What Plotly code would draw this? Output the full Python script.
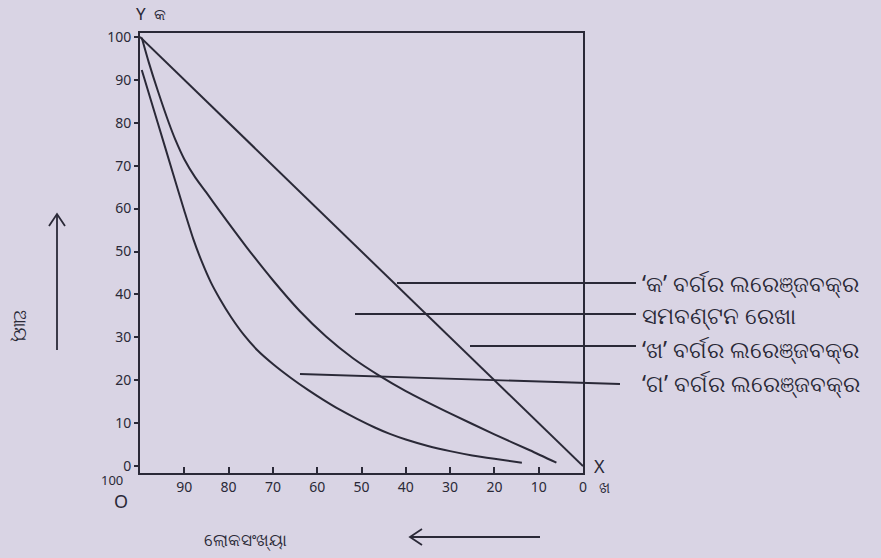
import plotly.graph_objects as go

# ---- data (population % on x, income % on y) ----
equal_pop = [100, 0]
equal_inc = [100, 0]

kha_pop = [99.6, 98.0, 96.0, 93.5, 92.0, 90.0, 87.5, 85.0, 82.0, 76.0, 70.0, 64.0, 58.0, 52.0, 46.0, 40.0, 30.0, 20.0, 12.0, 6.0]
kha_inc = [99.8, 94.0, 87.5, 80.0, 76.0, 71.5, 67.2, 63.7, 59.4, 51.1, 43.3, 36.2, 30.2, 25.2, 21.1, 17.5, 12.3, 7.4, 3.7, 0.8]

ga_pop = [99.6, 96.0, 92.5, 90.0, 88.0, 86.0, 84.0, 82.0, 79.5, 76.5, 73.5, 70.0, 66.0, 62.0, 58.7, 55.0, 51.0, 47.0, 43.6, 40.0, 35.0, 30.0, 25.0, 20.0, 13.8]
ga_inc = [92.3, 80.0, 68.0, 59.5, 53.0, 47.5, 42.8, 39.0, 34.8, 30.5, 27.0, 23.8, 20.6, 17.7, 15.5, 13.2, 11.0, 9.0, 7.5, 6.2, 4.7, 3.5, 2.5, 1.7, 0.8]

x_ticks = [100, 90, 80, 70, 60, 50, 40, 30, 20, 10, 0]
y_ticks = [0, 10, 20, 30, 40, 50, 60, 70, 80, 90, 100]

labels = ["‘କ’ ବର୍ଗର ଲରେଞ୍ଜବକ୍ର", "ସମବଣ୍ଟନ ରେଖା", "‘ଖ’ ବର୍ଗର ଲରେଞ୍ଜବକ୍ର", "‘ଗ’ ବର୍ଗର ଲରେଞ୍ଜବକ୍ର"]
x_title = "ଲୋକସଂଖ୍ୟା"
y_title = "ଆୟ"

# ---- layout geometry (pixels) ----
W, H = 881, 558
L, R, T, B = 140, 583, 33, 473
INK = "#2a2937"
BG = "#d9d4e4"
FONT = "Noto Sans, DejaVu Sans, sans-serif"

def px(x):
    return (x - L) / (R - L)

def py(y):
    return (B - y) / (B - T)

fig = go.Figure()
fig.add_trace(go.Scatter(x=equal_pop, y=equal_inc, mode="lines", line=dict(color=INK, width=2), showlegend=False))
fig.add_trace(go.Scatter(x=kha_pop, y=kha_inc, mode="lines",
                         line=dict(color=INK, width=2, shape="spline", smoothing=0.7), showlegend=False))
fig.add_trace(go.Scatter(x=ga_pop, y=ga_inc, mode="lines",
                         line=dict(color=INK, width=2, shape="spline", smoothing=0.7), showlegend=False))

shapes = []
# leader lines
leaders = [((397, 283), (636, 283)), ((355, 314), (636, 314)), ((470, 346), (636, 346)), ((300, 374), (620, 384))]
for (x0, y0), (x1, y1) in leaders:
    shapes.append(dict(type="line", xref="paper", yref="paper", x0=px(x0), y0=py(y0), x1=px(x1), y1=py(y1),
                       line=dict(color=INK, width=1.8)))
# y arrow
shapes.append(dict(type="line", xref="paper", yref="paper", x0=px(57), y0=py(350), x1=px(57), y1=py(214),
                   line=dict(color=INK, width=1.8)))
shapes.append(dict(type="path", xref="paper", yref="paper",
                   path=f"M {px(49)},{py(226)} L {px(57)},{py(214)} L {px(65)},{py(226)}",
                   line=dict(color=INK, width=1.8)))
# x arrow
shapes.append(dict(type="line", xref="paper", yref="paper", x0=px(540), y0=py(537), x1=px(410), y1=py(537),
                   line=dict(color=INK, width=1.8)))
shapes.append(dict(type="path", xref="paper", yref="paper",
                   path=f"M {px(422)},{py(529)} L {px(410)},{py(537)} L {px(422)},{py(545)}",
                   line=dict(color=INK, width=1.8)))

ann = []
def text(x, y, s, size=16, anchor="left", angle=0):
    ann.append(dict(xref="paper", yref="paper", x=px(x), y=py(y), text=s, showarrow=False,
                    xanchor=anchor, yanchor="middle", textangle=angle,
                    font=dict(family=FONT, size=size, color=INK)))

label_y = [283, 315, 349, 383]
for s, yy in zip(labels, label_y):
    text(640, yy, s, size=23)
text(141, 14, "Y", size=17, anchor="center")
text(160, 14, "କ", size=16, anchor="center")
text(112, 480, "100", size=13, anchor="center")
text(121, 501, "O", size=18, anchor="center")
text(599, 466, "X", size=18, anchor="center")
text(604, 487, "ଖ", size=15, anchor="center")
text(21, 326, y_title, size=18, anchor="center", angle=90)
text(245, 539, x_title, size=17, anchor="center")

fig.update_layout(
    width=W, height=H,
    margin=dict(l=L, r=W - R, t=T, b=H - B),
    paper_bgcolor=BG, plot_bgcolor=BG,
    shapes=shapes, annotations=ann,
    xaxis=dict(range=[100, 0], tickvals=x_ticks, ticktext=["" if v == 100 else str(v) for v in x_ticks],
               showgrid=False, zeroline=False, showline=True, mirror=True, linecolor=INK, linewidth=2,
               ticks="inside", ticklen=6, tickcolor=INK, tickwidth=2,
               tickfont=dict(family=FONT, size=14, color=INK)),
    yaxis=dict(range=[-1.6, 100.9], tickvals=y_ticks, ticktext=[str(v) for v in y_ticks],
               showgrid=False, zeroline=False, showline=True, mirror=True, linecolor=INK, linewidth=2,
               ticks="outside", ticklen=4, tickcolor=INK, tickwidth=2,
               tickfont=dict(family=FONT, size=14, color=INK)),
    font=dict(family=FONT, color=INK),
)

fig.write_html("out.html", config={"displayModeBar": False},
               post_script="document.body.style.margin='0';document.body.style.background='" + BG + "';")
